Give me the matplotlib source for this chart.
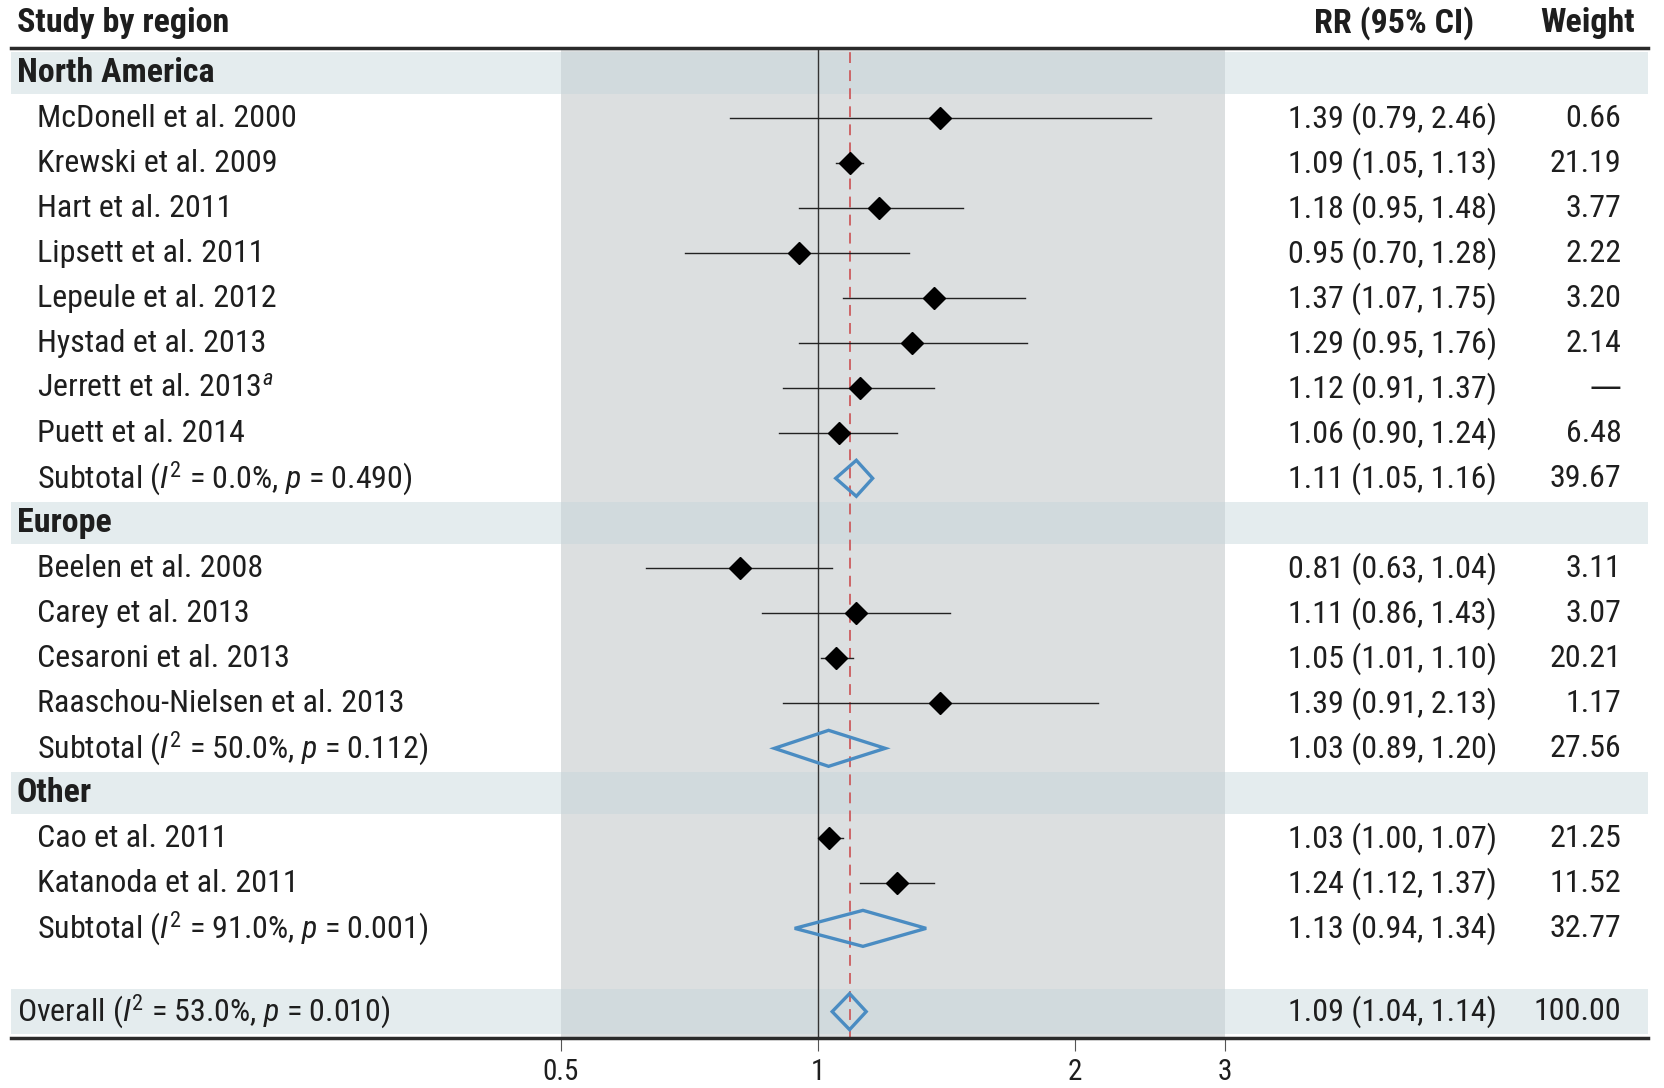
import matplotlib
matplotlib.use('Agg')
import matplotlib.pyplot as plt
import matplotlib.transforms as mtransforms
import numpy as np

plt.rcParams['font.family'] = ['Roboto Condensed', 'Liberation Sans', 'DejaVu Sans']
plt.rcParams['mathtext.fontset'] = 'custom'
plt.rcParams['mathtext.rm'] = 'Roboto Condensed'
plt.rcParams['mathtext.it'] = 'Roboto Condensed:italic'
plt.rcParams['mathtext.bf'] = 'Roboto Condensed:bold'

# ---- data ----
regions = ['North America', 'Europe', 'Other']
study_region = [0, 0, 0, 0, 0, 0, 0, 0, 1, 1, 1, 1, 2, 2]
study_names = ['McDonell et al. 2000', 'Krewski et al. 2009', 'Hart et al. 2011',
               'Lipsett et al. 2011', 'Lepeule et al. 2012', 'Hystad et al. 2013',
               r'Jerrett et al. 2013$^{a}$', 'Puett et al. 2014',
               'Beelen et al. 2008', 'Carey et al. 2013', 'Cesaroni et al. 2013',
               'Raaschou-Nielsen et al. 2013',
               'Cao et al. 2011', 'Katanoda et al. 2011']
study_rr = [1.39, 1.09, 1.18, 0.95, 1.37, 1.29, 1.12, 1.06, 0.81, 1.11, 1.05, 1.39, 1.03, 1.24]
study_lo = [0.79, 1.05, 0.95, 0.70, 1.07, 0.95, 0.91, 0.90, 0.63, 0.86, 1.01, 0.91, 1.00, 1.12]
study_hi = [2.46, 1.13, 1.48, 1.28, 1.75, 1.76, 1.37, 1.24, 1.04, 1.43, 1.10, 2.13, 1.07, 1.37]
study_weight = ['0.66', '21.19', '3.77', '2.22', '3.20', '2.14', '\u2014', '6.48',
                '3.11', '3.07', '20.21', '1.17', '21.25', '11.52']

sub_i2 = ['0.0', '50.0', '91.0']
sub_p = ['0.490', '0.112', '0.001']
sub_rr = [1.11, 1.03, 1.13]
sub_lo = [1.05, 0.89, 0.94]
sub_hi = [1.16, 1.20, 1.34]
sub_weight = ['39.67', '27.56', '32.77']

overall_i2 = '53.0'
overall_p = '0.010'
overall_rr = 1.09
overall_lo = 1.04
overall_hi = 1.14
overall_weight = '100.00'

xticks = [0.5, 1, 2, 3]
xticklabels = ['0.5', '1', '2', '3']

# ---- layout ----
W, H = 1568.0, 1025.0          # layout in reference pixel units
ax_left, ax_right = 10, 1552
ax_top, ax_bot = 45, 978
row0, row_h = 69, 42.4
px_half, px_one = 528, 770      # x pixels of 0.5 and 1
px_per_log2 = px_one - px_half

def px_to_val(px):
    return 2 ** ((px - px_one) / px_per_log2)

def frac(px):
    return (px - ax_left) / (ax_right - ax_left)

txt_col = '#1e1e1e'
band_col = '#c5d5db'
gray_col = '#dcdfe0'
blue = '#4a8cc2'
fs = 23
fs_b = 24.5

fig = plt.figure(figsize=(16.65, 10.88), dpi=100)
ax = fig.add_axes([ax_left / W, 1 - ax_bot / H, (ax_right - ax_left) / W, (ax_bot - ax_top) / H])
ax.set_xscale('log')
ax.set_xlim(px_to_val(ax_left), px_to_val(ax_right))
ax.set_ylim((ax_bot - row0) / row_h, (ax_top - row0) / row_h)

tr = mtransforms.blended_transform_factory(ax.transAxes, ax.transData)

ax.axvspan(0.5, 3, color=gray_col, zorder=0, lw=0)
ax.axvline(1, color='#333333', lw=1.0, zorder=1)
ax.axvline(overall_rr, color='#cc5c5e', lw=1.3, ls=(0, (6, 4)), zorder=1)

x_head = frac(16)
x_name = frac(35)
x_rr = frac(1410)
x_w = frac(1527)

def summary_diamond(y, rr, lo, hi):
    dh = 0.4
    ax.fill([lo, rr, hi, rr, lo], [y, y - dh, y, y + dh, y], facecolor='none',
            edgecolor=blue, lw=2.4, zorder=4, joinstyle='miter')

def weight_text(y, s):
    fam = ['DejaVu Sans'] if s == '\u2014' else None
    ax.text(x_w, y, s, transform=tr, fontsize=fs, va='center', ha='right',
            color=txt_col, family=fam)

row = 0
for r, region in enumerate(regions):
    ax.axhspan(row - 0.47, row + 0.47, color=band_col, alpha=0.45, lw=0, zorder=0.5)
    ax.text(x_head, row, region, transform=tr, fontsize=fs_b, fontweight='bold',
            va='center', ha='left', color=txt_col)
    row += 1
    for i in range(len(study_names)):
        if study_region[i] != r:
            continue
        ax.plot([study_lo[i], study_hi[i]], [row, row], color='#222222', lw=1.0, zorder=2)
        ax.plot(study_rr[i], row, marker='D', color='black', markersize=11, zorder=3)
        ax.text(x_name, row, study_names[i], transform=tr, fontsize=fs, va='center',
                ha='left', color=txt_col)
        ax.text(x_rr, row, f'{study_rr[i]:.2f} ({study_lo[i]:.2f}, {study_hi[i]:.2f})',
                transform=tr, fontsize=fs, va='center', ha='right', color=txt_col)
        weight_text(row, study_weight[i])
        row += 1
    summary_diamond(row, sub_rr[r], sub_lo[r], sub_hi[r])
    ax.text(x_name, row, 'Subtotal ($I^2$ = ' + sub_i2[r] + '%, $p$ = ' + sub_p[r] + ')',
            transform=tr, fontsize=fs, va='center', ha='left', color=txt_col)
    ax.text(x_rr, row, f'{sub_rr[r]:.2f} ({sub_lo[r]:.2f}, {sub_hi[r]:.2f})',
            transform=tr, fontsize=fs, va='center', ha='right', color=txt_col)
    weight_text(row, sub_weight[r])
    row += 1

row += 0.85
ax.axhspan(row - 0.5, row + 0.5, color=band_col, alpha=0.45, lw=0, zorder=0.5)
summary_diamond(row, overall_rr, overall_lo, overall_hi)
ax.text(x_head, row, 'Overall ($I^2$ = ' + overall_i2 + '%, $p$ = ' + overall_p + ')',
        transform=tr, fontsize=fs, va='center', ha='left', color=txt_col)
ax.text(x_rr, row, f'{overall_rr:.2f} ({overall_lo:.2f}, {overall_hi:.2f})',
        transform=tr, fontsize=fs, va='center', ha='right', color=txt_col)
weight_text(row, overall_weight)

# column headers
y_head = (22 - row0) / row_h
ax.text(x_head, y_head, 'Study by region', transform=tr, fontsize=fs_b, fontweight='bold',
        va='center', ha='left', color=txt_col, clip_on=False)
ax.text(frac(1388), y_head, 'RR (95% CI)', transform=tr, fontsize=fs_b, fontweight='bold',
        va='center', ha='right', color=txt_col, clip_on=False)
ax.text(frac(1540), y_head, 'Weight', transform=tr, fontsize=fs_b, fontweight='bold',
        va='center', ha='right', color=txt_col, clip_on=False)

# axes styling
for s in ['left', 'right']:
    ax.spines[s].set_visible(False)
for s in ['top', 'bottom']:
    ax.spines[s].set_linewidth(2.5)
    ax.spines[s].set_color('#2a2a2a')
ax.set_yticks([])
ax.minorticks_off()
ax.set_xticks(xticks)
ax.set_xticklabels(xticklabels)
ax.tick_params(axis='x', which='major', length=9, width=0.8, color='#555555',
               labelsize=fs - 2, pad=5, labelcolor=txt_col)
ax.tick_params(axis='x', which='minor', length=0)

fig.savefig('out.png', dpi=100)
